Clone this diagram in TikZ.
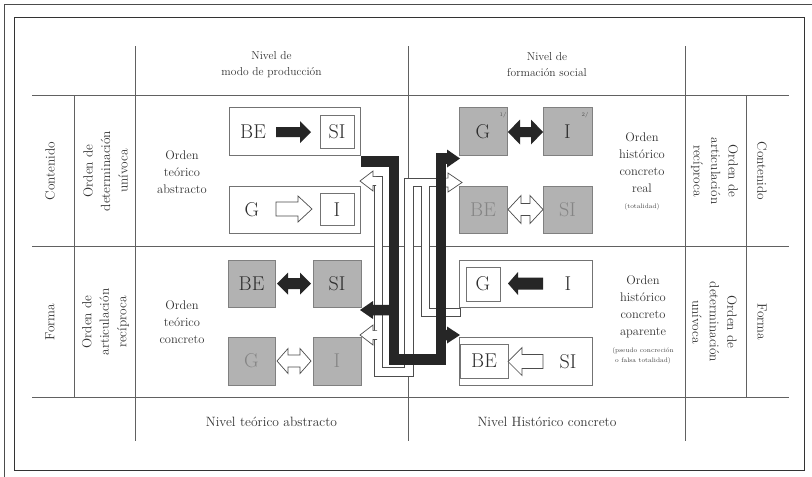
\documentclass[tikz,border=0pt]{standalone}
\usepackage{fontspec}
\begin{document}
\newcommand\myRA[7]{\path[#1] (#2,{#4-#5}) -- ({#3-#7},{#4-#5}) -- ({#3-#7},{#4-#6}) -- (#3,#4) -- ({#3-#7},{#4+#6}) -- ({#3-#7},{#4+#5}) -- (#2,{#4+#5}) -- cycle;}
\newcommand\myLA[7]{\path[#1] (#3,{#4-#5}) -- ({#2+#7},{#4-#5}) -- ({#2+#7},{#4-#6}) -- (#2,#4) -- ({#2+#7},{#4+#6}) -- ({#2+#7},{#4+#5}) -- (#3,{#4+#5}) -- cycle;}
\newcommand\myRAo[7]{\path[#1] (#2,{#4-#5}) -- ({#3-#7},{#4-#5}) -- ({#3-#7},{#4-#6}) -- (#3,#4) -- ({#3-#7},{#4+#6}) -- ({#3-#7},{#4+#5}) -- (#2,{#4+#5});}
\newcommand\myLAo[7]{\path[#1] (#3,{#4-#5}) -- ({#2+#7},{#4-#5}) -- ({#2+#7},{#4-#6}) -- (#2,#4) -- ({#2+#7},{#4+#6}) -- ({#2+#7},{#4+#5}) -- (#3,{#4+#5});}
\newcommand\myDA[7]{\path[#1] (#2,#4) -- ({#2+#7},{#4-#6}) -- ({#2+#7},{#4-#5}) -- ({#3-#7},{#4-#5}) -- ({#3-#7},{#4-#6}) -- (#3,#4) -- ({#3-#7},{#4+#6}) -- ({#3-#7},{#4+#5}) -- ({#2+#7},{#4+#5}) -- ({#2+#7},{#4+#6}) -- cycle;}
\begin{tikzpicture}[x=1pt,y=-1pt,
  grid/.style={draw=black!62, line width=0.75pt},
  lbl/.style={font=\fontsize{12.5}{17}\selectfont, align=center, text=black!80, inner sep=0pt},
  rot/.style={font=\fontsize{13.3}{17.5}\selectfont, align=center, text=black!80, inner sep=0pt},
  foot/.style={font=\fontsize{13.5}{17}\selectfont, align=center, text=black!80, inner sep=0pt},
  hdr/.style={font=\fontsize{11.5}{16}\selectfont, align=center, text=black!80, inner sep=0pt},
  small/.style={font=\fontsize{6.5}{10}\selectfont, align=center, text=black!75, inner sep=0pt},
  tiny/.style={font=\fontsize{5.5}{6}\selectfont, text=black!70, inner sep=0pt},
  wbox/.style={draw=black!55, line width=0.7pt, fill=white},
  gbox/.style={draw=black!50, line width=0.7pt, fill=black!30},
  big/.style={font=\fontsize{20}{20}\selectfont, text=black!82, inner sep=0pt},
  fade/.style={font=\fontsize{20}{20}\selectfont, text=black!48, inner sep=0pt},
  blk/.style={fill=black!85},
  hol/.style={fill=white, draw=black!70, line width=0.7pt, line join=miter},
  bband/.style={draw=black!85, line width=10.5pt, line join=miter},
  hband/.style={draw=black!70, line width=0.8pt, double=white, double distance=7.6pt, line join=miter}
]
\useasboundingbox (0,0) rectangle (812,477);
\fill[white] (0,0) rectangle (812,477);
% frames
\draw[black!70, line width=1pt] (4.5,477) -- (4.5,4.5) -- (812,4.5);
\draw[black!80, line width=0.9pt] (14,17) rectangle (804,470);
% grid
\draw[grid] (32,95.5) -- (789,95.5);
\draw[grid] (32,246.5) -- (789,246.5);
\draw[grid] (32,397.5) -- (789,397.5);
\draw[grid] (74,95.5) -- (74,397.5);
\draw[grid] (746,95.5) -- (746,397.5);
\draw[grid] (135,46) -- (135,441);
\draw[grid] (408.5,46) -- (408.5,441);
\draw[grid] (685.5,46) -- (685.5,441);
% header / footer
\node[hdr] (h1) at (271.5,65) {Nivel de\\modo de producción};
\node[hdr] (h2) at (547,65) {Nivel de\\formación social};
\node[foot] (f1) at (271.5,422) {Nivel teórico abstracto};
\node[foot] (f2) at (547,422) {Nivel Histórico concreto};
% rotated labels
\node[rot, rotate=90] (c1) at (50,171) {Contenido};
\node[rot, rotate=90] (o1) at (105.5,171) {Orden de\\determinación\\unívoca};
\node[rot, rotate=90] (c2) at (50,322) {Forma};
\node[rot, rotate=90] (o2) at (105.5,322) {Orden de\\articulación\\recíproca};
\node[rot, rotate=-90] (o3) at (714.5,171) {Orden de\\articulación\\recíproca};
\node[rot, rotate=-90] (c3) at (762,171) {Contenido};
\node[rot, rotate=-90] (o4) at (714.5,322) {Orden de\\determinación\\unívoca};
\node[rot, rotate=-90] (c4) at (762,322) {Forma};
% side labels
\node[lbl] (l1) at (182,172) {Orden\\teórico\\abstracto};
\node[lbl] (l2) at (182,322) {Orden\\teórico\\concreto};
\node[lbl] (r1) at (642,163) {Orden\\histórico\\concreto\\real};
\node[small] (r1s) at (642,207) {(totalidad)};
\node[lbl] (r2) at (643,306.5) {Orden\\histórico\\concreto\\aparente};
\node[small] (r2s) at (643,355.5) {(pseudo concreción\\o falsa totalidad)};
% ---- top-left cell
\draw[wbox] (229,107) rectangle (360,155);
\node[big] (tlBE) at (253,132) {BE};
\draw[wbox] (320,115) rectangle (354,148);
\node[big] (tlSI) at (337,132) {SI};
\myRA{blk}{276}{311}{132}{5}{11}{11}
\draw[wbox] (229,186) rectangle (360,233);
\node[big] (tlG) at (252,209.5) {G};
\draw[wbox] (320,193) rectangle (354,225);
\node[big] (tlI) at (337,209.5) {I};
\myRA{hol}{276}{312}{209}{7}{13}{14}
% ---- bottom-left cell
\draw[gbox] (228,260) rectangle (275,307);
\node[big] (blBE) at (251.5,283.5) {BE};
\draw[gbox] (313,260) rectangle (361,307);
\node[big] (blSI) at (337,283.5) {SI};
\myDA{blk}{277}{311}{283.5}{5.5}{11}{11}
\draw[gbox] (228,337) rectangle (275,385);
\node[fade] (blG) at (251.5,361) {G};
\draw[gbox] (313,337) rectangle (361,385);
\node[fade] (blI) at (337,361) {I};
\myDA{hol}{277}{311}{361}{6}{12.5}{11}
% ---- top-right cell
\draw[gbox] (459,107) rectangle (507,155);
\node[big] (trG) at (483,131.5) {G};
\node[tiny] (s1) at (503,115) {1/};
\draw[gbox] (543,107) rectangle (592,155);
\node[big] (trI) at (567.5,131.5) {I};
\node[tiny] (s2) at (585,115) {2/};
\myDA{blk}{508}{543}{132}{5}{12.5}{12}
\draw[gbox] (459,186) rectangle (507,233);
\node[fade] (trBE) at (483,209.5) {BE};
\draw[gbox] (543,186) rectangle (592,233);
\node[fade] (trSI) at (567.5,209.5) {SI};
\myDA{hol}{508}{543}{209.5}{6}{14}{13}
% ---- bottom-right cell
\draw[wbox] (459,260) rectangle (592,307);
\draw[wbox] (466,267) rectangle (500,301);
\node[big] (brG) at (483,284) {G};
\node[big] (brI) at (568,283.5) {I};
\myLA{blk}{508}{543}{283.5}{6}{11.5}{10}
\draw[wbox] (459,337) rectangle (592,385);
\draw[wbox] (460,344) rectangle (508,378);
\node[big] (brBE) at (484,361) {BE};
\node[big] (brSI) at (568,361.5) {SI};
\myLA{hol}{508}{543}{361.5}{7}{14}{14}
% ---- central connectors: hollow bands
\draw[hband] (372,181) -- (378.5,181) -- (378.5,372) -- (409,372) -- (409,182.5) -- (449,182.5);
\draw[hband] (425.5,186) -- (425.5,312.5) -- (460,312.5);
\draw[black!70, line width=0.8pt] (460,308.1) -- (460,316.9);
\myLAo{hol}{360}{376}{181}{4.4}{10}{13}
\myLAo{hol}{360}{377}{335}{4.4}{10}{13}
\myRAo{hol}{446}{462}{182.5}{4.4}{9.5}{14}
% black band
\draw[bband] (361,161.5) -- (394,161.5) -- (394,359.5) -- (441,359.5) -- (441,158.5) -- (448,158.5);
\myRA{blk}{446}{460}{158.5}{5.25}{9}{13}
\myLA{blk}{360}{394}{310}{5.25}{9}{13}
\myRA{blk}{441}{460}{335}{5.25}{8.5}{13}
\end{tikzpicture}
\end{document}
